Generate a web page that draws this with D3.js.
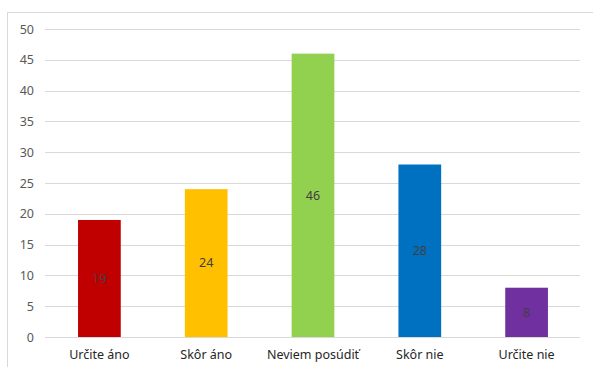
<!DOCTYPE html>
<html>
<head>
<meta charset="utf-8">
<script src="https://cdn.jsdelivr.net/npm/d3@7"></script>
<style>
  html, body { margin: 0; padding: 0; background: #fff; }
  svg { display: block; }
  text { font-family: "Noto Sans", "Liberation Sans", sans-serif; }
</style>
</head>
<body>
<svg id="chart" width="593" height="367"></svg>
<script>
// Survey answers and counts
const categories = ["Určite áno", "Skôr áno", "Neviem posúdiť", "Skôr nie", "Určite nie"];
const values = [19, 24, 46, 28, 8];
const barColors = ["#C00000", "#FFC000", "#92D050", "#0070C0", "#7030A0"];
const yTicks = [0, 5, 10, 15, 20, 25, 30, 35, 40, 45, 50];

const svg = d3.select("#chart");

// Chart area frame
svg.append("rect")
  .attr("x", 7.5).attr("y", 12.5)
  .attr("width", 600).attr("height", 400)
  .attr("fill", "#fff")
  .attr("stroke", "#D9D9D9");

const plot = { left: 46, right: 580, top: 29, bottom: 337 };

const x = d3.scaleBand()
  .domain(categories)
  .range([plot.left, plot.right])
  .paddingInner(0.6)
  .paddingOuter(0.3);

const y = d3.scaleLinear()
  .domain([0, 50])
  .range([plot.bottom, plot.top]);

// Horizontal gridlines
svg.append("g")
  .selectAll("line")
  .data(yTicks)
  .join("line")
  .attr("x1", plot.left - 1).attr("x2", plot.right)
  .attr("y1", d => Math.round(y(d)) + 0.5)
  .attr("y2", d => Math.round(y(d)) + 0.5)
  .attr("stroke", "#D9D9D9")
  .attr("stroke-width", 1);

// Y axis labels
const yAxis = d3.axisLeft(y).tickValues(yTicks).tickSize(0).tickPadding(12);
const gy = svg.append("g")
  .attr("transform", `translate(${plot.left},0)`)
  .call(yAxis);
gy.select(".domain").remove();
gy.selectAll("text")
  .attr("fill", "#595959")
  .style("font-size", "12.5px");

// Bars
svg.append("g")
  .selectAll("rect")
  .data(values)
  .join("rect")
  .attr("x", (d, i) => x(categories[i]))
  .attr("y", d => y(d))
  .attr("width", x.bandwidth())
  .attr("height", d => y(0) - y(d))
  .attr("fill", (d, i) => barColors[i]);

// Value labels centred in the bars
svg.append("g")
  .selectAll("text")
  .data(values)
  .join("text")
  .attr("x", (d, i) => x(categories[i]) + x.bandwidth() / 2)
  .attr("y", d => (y(d) + y(0)) / 2)
  .attr("dy", "0.35em")
  .attr("text-anchor", "middle")
  .attr("fill", "#404040")
  .style("font-size", "12.5px")
  .text(d => d);

// Category labels
const xAxis = d3.axisBottom(x).tickSize(0).tickPadding(13);
const gx = svg.append("g")
  .attr("transform", `translate(0,${plot.bottom})`)
  .call(xAxis);
gx.select(".domain").remove();
gx.selectAll("text")
  .attr("fill", "#262626")
  .style("font-size", "12.5px");
</script>
</body>
</html>
